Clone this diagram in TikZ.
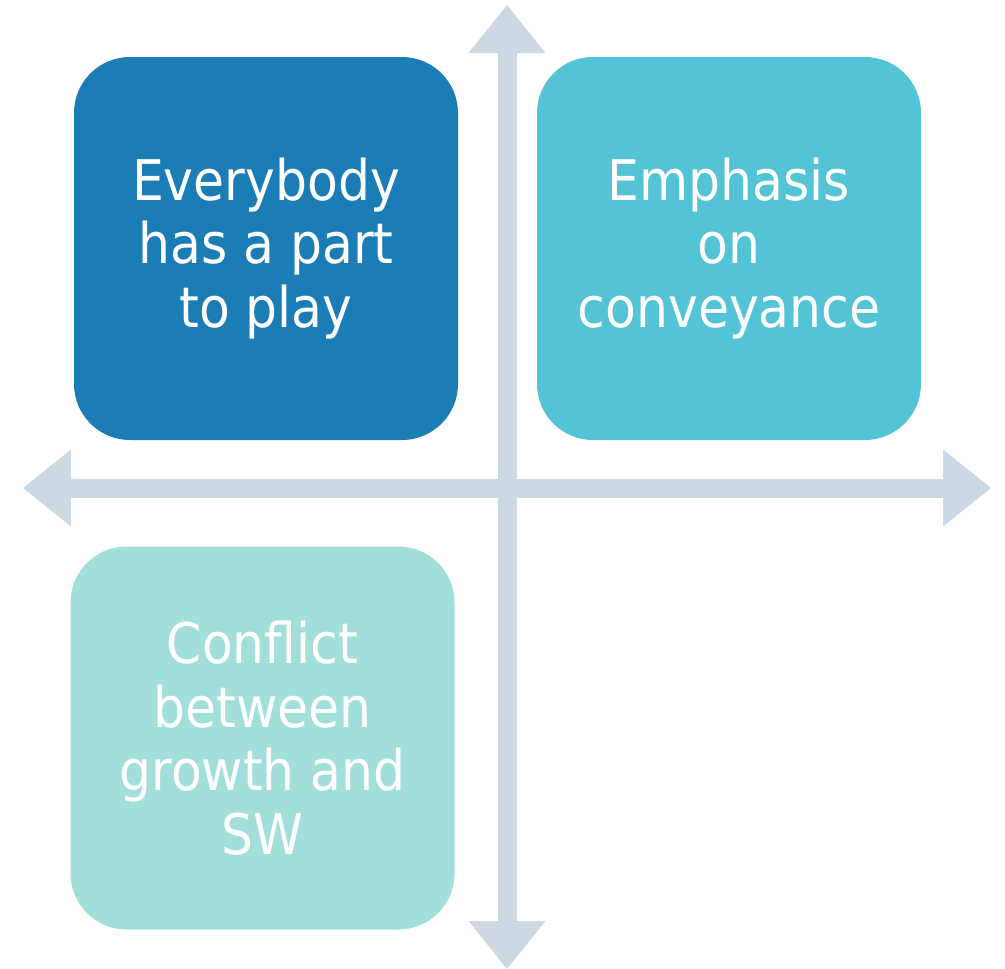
\documentclass[tikz,border=0pt]{standalone}
\usepackage{fontspec}
\setmainfont{DejaVu Sans}[FakeStretch=0.9]
\usetikzlibrary{arrows.meta}
\definecolor{quaddark}{RGB}{27,125,182}
\definecolor{quadmid}{RGB}{83,195,214}
\definecolor{quadlight}{RGB}{162,222,218}
\definecolor{axisgray}{RGB}{205,216,229}

\begin{document}
\begin{tikzpicture}[x=1pt,y=-1pt,
  quad/.style={rounded corners=56pt,minimum width=384pt,minimum height=383pt,inner sep=0pt,text=white,align=center,font=\fontsize{56}{63.5}\selectfont},
  axis/.style={line width=19pt,draw=axisgray,{Triangle[length=48pt,width=77pt,line width=0pt]}-{Triangle[length=48pt,width=77pt,line width=0pt]}}]
\useasboundingbox (0,0) rectangle (1005,969);
% axes
\coordinate (west) at (23,488);
\coordinate (east) at (991,488);
\coordinate (north) at (507,5);
\coordinate (south) at (507,969);
\draw[axis] (west) -- (east);
\draw[axis] (north) -- (south);
% quadrants
\draw node[quad,fill=quaddark] (part) at (266,248.5) {Everybody\\has a part\\to play};
\draw node[quad,fill=quadmid] (conv) at (729,248.5) {Emphasis\\on\\conveyance};
\draw node[quad,fill=quadlight] (conf) at (262.5,738) {Conflict\\between\\growth and\\SW};
\end{tikzpicture}
\end{document}
